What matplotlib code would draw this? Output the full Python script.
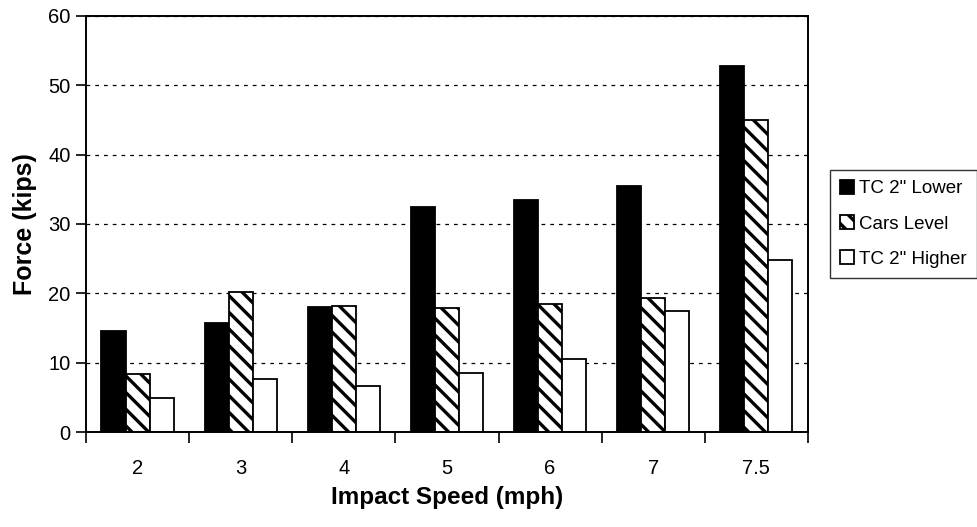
import matplotlib.pyplot as plt
import numpy as np

plt.rcParams['font.family'] = ['Liberation Sans', 'DejaVu Sans']
plt.rcParams['hatch.linewidth'] = 2.4

# impact speeds and peak forces for each alignment case
speeds = ['2', '3', '4', '5', '6', '7', '7.5']
tc_lower = [14.6, 15.7, 18.0, 32.4, 33.5, 35.5, 52.7]
cars_level = [8.4, 20.2, 18.2, 17.9, 18.4, 19.4, 45.0]
tc_higher = [4.9, 7.7, 6.6, 8.5, 10.6, 17.4, 24.8]

x = np.arange(len(speeds))
w = 0.233

fig = plt.figure(figsize=(9.77, 5.27), dpi=100)
ax = fig.add_axes([0.088, 0.18, 0.739, 0.79])

ax.bar(x - w, tc_lower, w, color='black', edgecolor='black', linewidth=1.3, label='TC 2" Lower')
ax.bar(x, cars_level, w, color='white', edgecolor='black', linewidth=1.3, hatch='\\\\', label='Cars Level')
ax.bar(x + w, tc_higher, w, color='white', edgecolor='black', linewidth=1.3, label='TC 2" Higher')

ax.set_xlim(-0.5, len(speeds) - 0.5)
ax.set_ylim(0, 60)
ax.set_yticks(range(0, 61, 10))
ax.set_xticks(x)
ax.set_xticklabels(speeds)
ax.set_xticks(np.arange(-0.5, len(speeds), 1), minor=True)
ax.tick_params(axis='x', which='major', length=0, pad=19, labelsize=14.5)
ax.tick_params(axis='x', which='minor', length=8, width=1.2, direction='out')
ax.tick_params(axis='y', length=7, width=1.2, direction='out', labelsize=14.5, pad=4)

ax.yaxis.grid(True, linestyle=(0, (3, 4)), color='black', linewidth=0.9)
ax.set_axisbelow(True)
for s in ax.spines.values():
    s.set_linewidth(1.4)

ax.set_xlabel('Impact Speed (mph)', fontsize=17.5, fontweight='bold', labelpad=6)
ax.set_ylabel('Force (kips)', fontsize=18, fontweight='bold', labelpad=8)

leg = ax.legend(loc='center left', bbox_to_anchor=(1.03, 0.5), frameon=True, fancybox=False,
                edgecolor='black', fontsize=13.5, handlelength=0.75, handleheight=0.75,
                handletextpad=0.25, labelspacing=0.95, borderpad=0.55, borderaxespad=0)
leg.get_frame().set_linewidth(1.0)

fig.savefig('out.png', dpi=100)
